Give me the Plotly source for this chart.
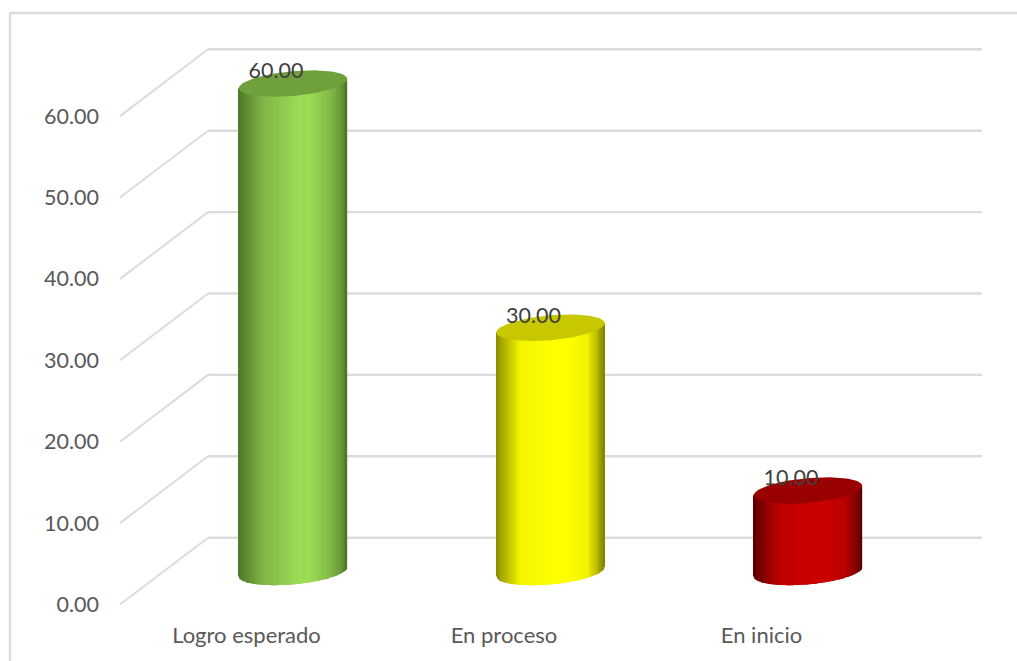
import numpy as np
import plotly.graph_objects as go

categories = ["Logro esperado", "En proceso", "En inicio"]
values = [60.0, 30.0, 10.0]
value_ticks = [0, 10, 20, 30, 40, 50, 60]
value_tick_labels = ["0.00", "10.00", "20.00", "30.00", "40.00", "50.00", "60.00"]
data_labels = ["60.00", "30.00", "10.00"]

W, H = 1017, 661
PX_UNIT_Y = 8.14
PX_SLOT = 257.5
ZERO_PY = 604.5
FIRST_PX = 246.5
x_range = [-FIRST_PX / PX_SLOT, (W - FIRST_PX) / PX_SLOT]
y_range = [-(H - ZERO_PY) / PX_UNIT_Y, ZERO_PY / PX_UNIT_Y]

GRID = "#dcdcdc"
DEPTH_X = 88 / PX_SLOT
DEPTH_Y = 66.8 / PX_UNIT_Y
FRONT_X = (120 - FIRST_PX) / PX_SLOT
BACK_X = (982 - FIRST_PX) / PX_SLOT

CYL_DX = 46.5 / PX_SLOT
CYL_DY = 4.0
HALF_W = 54.2 / PX_SLOT
TILT = 4.6 / PX_UNIT_Y
MINOR = 12.4 / PX_UNIT_Y
N_SLICE = 120

stops = [0, 0.08, 0.22, 0.55, 0.66, 0.85, 0.95, 1]
palettes = [
    ["#4f7a28", "#5f8e32", "#7fb648", "#9bdc55", "#9bdc55", "#84ba49", "#6a9a38", "#4e7727"],
    ["#8f8f00", "#b4b400", "#f4f400", "#ffff00", "#ffff00", "#f2f200", "#b2b200", "#858500"],
    ["#5e0000", "#820000", "#bc0000", "#cc0000", "#cc0000", "#ba0000", "#880000", "#5a0000"],
]
cap_colors = ["#70a03c", "#c8c800", "#990000"]


def rgb(h):
    return [int(h[i:i + 2], 16) for i in (1, 3, 5)]


def ramp(pal, t):
    c = [np.interp(t, stops, [rgb(p)[k] for p in pal]) for k in range(3)]
    return ["rgb(%d,%d,%d)" % (a, b, d) for a, b, d in zip(*c)]


fig = go.Figure()

# Cylinder bodies are slices of a bar trace, each cylinder rising from its value
slice_w = 2 * HALF_W / N_SLICE
for i, v in enumerate(values):
    cx = i + CYL_DX
    u = np.linspace(-1, 1, N_SLICE)
    xs = cx + u * (HALF_W - 0.7 * slice_w)
    bottom = CYL_DY + TILT * u - MINOR * np.sqrt(1 - u ** 2)
    top = v + CYL_DY + TILT * u
    fig.add_trace(go.Bar(
        x=xs, y=top - bottom, base=bottom,
        width=1.35 * slice_w,
        marker=dict(color=ramp(palettes[i], (u + 1) / 2), line=dict(width=0)),
        hoverinfo="skip", showlegend=False,
    ))

# Top cap of each cylinder
for i, v in enumerate(values):
    t = np.linspace(0, 2 * np.pi, 121)
    fig.add_trace(go.Scatter(
        x=i + CYL_DX + HALF_W * np.cos(t),
        y=v + CYL_DY + TILT * np.cos(t) + MINOR * np.sin(t),
        mode="lines", fill="toself", fillcolor=cap_colors[i],
        line=dict(width=0, color=cap_colors[i]),
        hoverinfo="skip", showlegend=False,
    ))

# Data labels
fig.add_trace(go.Scatter(
    x=[i + CYL_DX - 17 / PX_SLOT for i in range(len(values))],
    y=[v + CYL_DY + 1.3 for v in values],
    mode="text", text=data_labels, textposition="middle center",
    textfont=dict(family="Lato", size=21.5, color="#404040"),
    hoverinfo="skip", showlegend=False,
))

# Wall and floor gridlines, placed through the axes
shapes = []
for v in value_ticks:
    shapes.append(dict(type="line", xref="x", yref="y", layer="below",
                       x0=FRONT_X, y0=v, x1=FRONT_X + DEPTH_X, y1=v + DEPTH_Y,
                       line=dict(color=GRID, width=2)))
    shapes.append(dict(type="line", xref="x", yref="y", layer="below",
                       x0=FRONT_X + DEPTH_X, y0=v + DEPTH_Y, x1=BACK_X, y1=v + DEPTH_Y,
                       line=dict(color=GRID, width=2.4)))
# Chart frame: top and left edges only
shapes.append(dict(type="line", xref="paper", yref="paper", layer="below",
                   x0=10 / W, y0=1 - 13 / H, x1=1, y1=1 - 13 / H,
                   line=dict(color=GRID, width=2.4)))
shapes.append(dict(type="line", xref="paper", yref="paper", layer="below",
                   x0=10 / W, y0=1 - 13 / H, x1=10 / W, y1=0,
                   line=dict(color=GRID, width=2.4)))

fig.update_layout(
    width=W, height=H,
    margin=dict(l=0, r=0, t=0, b=0, pad=0),
    paper_bgcolor="white", plot_bgcolor="white",
    barmode="overlay", showlegend=False, shapes=shapes,
    font=dict(family="Lato", size=21.5, color="#595959"),
    xaxis=dict(range=x_range, tickmode="array", tickvals=list(range(len(categories))),
               ticktext=categories, showgrid=False, zeroline=False, showline=False,
               ticks="", anchor="free", position=(H - 620) / H,
               tickfont=dict(family="Lato", size=22, color="#595959")),
    yaxis=dict(range=y_range, tickmode="array", tickvals=value_ticks,
               ticktext=value_tick_labels, showgrid=False, zeroline=False, showline=False,
               ticks="", anchor="free", position=99 / W,
               tickfont=dict(family="Lato", size=21.5, color="#595959")),
)

fig.write_html("out.html", config={"displayModeBar": False},
               post_script="document.body.style.margin='0';document.body.style.overflow='hidden';")
